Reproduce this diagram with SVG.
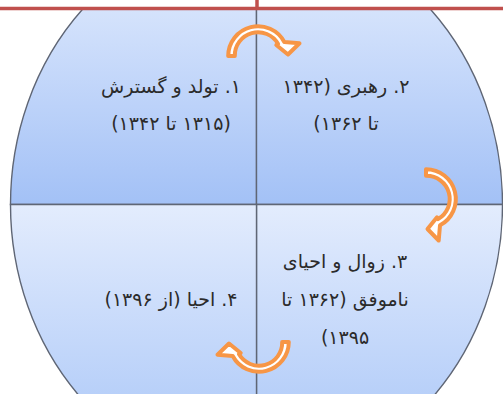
<svg xmlns="http://www.w3.org/2000/svg" width="503" height="394" viewBox="0 0 503 394">
  <style>
    .q { stroke: #5f6675; stroke-width: 1.4; }
    .t { font-family: "DejaVu Sans", sans-serif; font-size: 19px; fill: #2b2b2b; text-anchor: middle; direction: rtl; }
    .arr { fill: #ffffff; stroke: #f79646; stroke-width: 4; stroke-linejoin: round; }
    .red { stroke: #c0504d; stroke-width: 3.5; fill: none; }
  </style>
  <defs>
    <linearGradient id="gTop" gradientUnits="userSpaceOnUse" x1="0" y1="9" x2="0" y2="204">
      <stop offset="0" stop-color="#d5e3fc"/>
      <stop offset="1" stop-color="#a3c1f6"/>
    </linearGradient>
    <linearGradient id="gBot" gradientUnits="userSpaceOnUse" x1="0" y1="205" x2="0" y2="394">
      <stop offset="0" stop-color="#e3ecfd"/>
      <stop offset="1" stop-color="#b8d0f9"/>
    </linearGradient>
    <clipPath id="clip">
      <rect x="0" y="8.5" width="503" height="386"/>
    </clipPath>
    <path id="arrowShape" d="M -29.8 0 A 29.8 29.8 0 0 1 26.3 -14 L 41.5 -12.7 L 30 -1.5 L 18.3 -11 L 20.1 -12.1 A 23.2 23.2 0 0 0 -23.2 0 Z"/>
  </defs>

  <g clip-path="url(#clip)">
    <g id="node1">
      <path class="q" fill="url(#gTop)" d="M 256.5 204.5 L 10.5 204.5 A 246 276 0 0 1 256.5 -71.5 Z"/>
      <text class="t" x="171" y="93">۱. تولد و گسترش</text>
      <text class="t" x="171" y="130">(۱۳۱۵ تا ۱۳۴۲)</text>
    </g>
    <g id="node2">
      <path class="q" fill="url(#gTop)" d="M 256.5 204.5 L 256.5 -71.5 A 246 276 0 0 1 502.5 204.5 Z"/>
      <text class="t" x="346" y="93">۲. رهبری (۱۳۴۲</text>
      <text class="t" x="346" y="130">تا ۱۳۶۲)</text>
    </g>
    <g id="node3">
      <path class="q" fill="url(#gBot)" d="M 256.5 204.5 L 502.5 204.5 A 246 276 0 0 1 256.5 480.5 Z"/>
      <text class="t" x="345" y="268">۳. زوال و احیای</text>
      <text class="t" x="345" y="306">ناموفق (۱۳۶۲ تا</text>
      <text class="t" x="345" y="344">۱۳۹۵)</text>
    </g>
    <g id="node4">
      <path class="q" fill="url(#gBot)" d="M 256.5 204.5 L 256.5 480.5 A 246 276 0 0 1 10.5 204.5 Z"/>
      <text class="t" x="171" y="306">۴. احیا (از ۱۳۹۶)</text>
    </g>
  </g>

  <g id="frame">
    <line class="red" x1="0" y1="8.5" x2="503" y2="8.5"/>
    <line class="red" x1="257" y1="0" x2="257" y2="8.5"/>
  </g>

  <g id="connectors">
    <use href="#arrowShape" class="arr" transform="translate(258,56)"/>
    <use href="#arrowShape" class="arr" transform="translate(426,199) rotate(90)"/>
    <use href="#arrowShape" class="arr" transform="translate(259,342) rotate(180)"/>
  </g>
</svg>
